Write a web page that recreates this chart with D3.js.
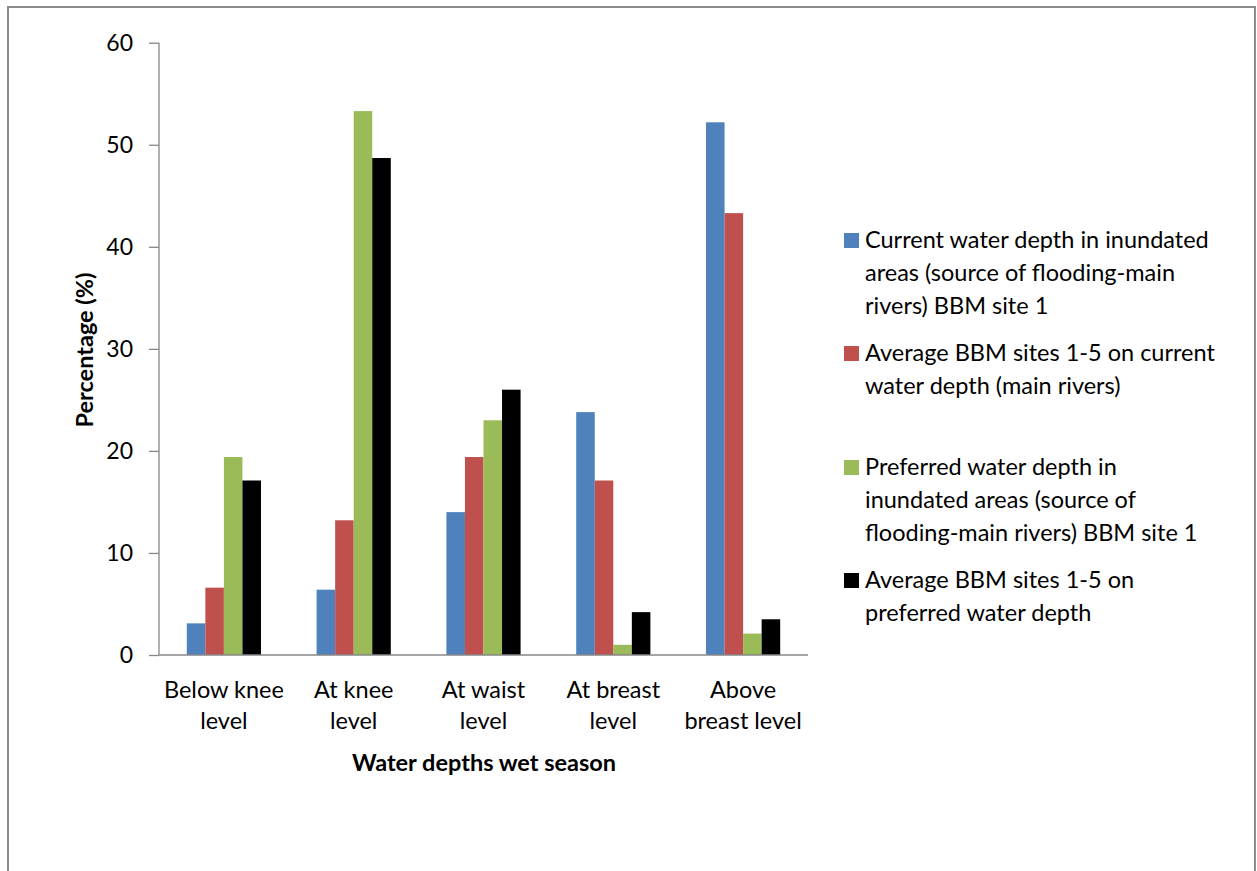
<!DOCTYPE html>
<html>
<head>
<meta charset="utf-8">
<script src="https://cdn.jsdelivr.net/npm/d3@7"></script>
<style>
  html, body { margin: 0; padding: 0; background: #fff; }
  svg { display: block; }
  text { font-family: Lato, "Open Sans", sans-serif; fill: #000; }
</style>
</head>
<body>
<svg id="chart" width="1257" height="871"></svg>
<script>
// Water depth categories (x axis)
const categories = [
  ["Below knee", "level"],
  ["At knee", "level"],
  ["At waist", "level"],
  ["At breast", "level"],
  ["Above", "breast level"]
];
const categoryKeys = ["Below knee level", "At knee level", "At waist level", "At breast level", "Above breast level"];

// Series values (%)
const currentSite1     = [3.1, 6.4, 14.0, 23.8, 52.2];
const currentAvg       = [6.6, 13.2, 19.4, 17.1, 43.3];
const preferredSite1   = [19.4, 53.3, 23.0, 1.0, 2.1];
const preferredAvg     = [17.1, 48.7, 26.0, 4.2, 3.5];

// Legend labels (line-broken)
const seriesLabels = [
  ["Current water depth in inundated", "areas (source of flooding-main", "rivers) BBM site 1"],
  ["Average BBM sites 1-5 on current", "water depth (main rivers)"],
  ["Preferred water depth in", "inundated areas (source of", "flooding-main rivers) BBM site 1"],
  ["Average BBM sites 1-5 on", "preferred water depth"]
];
const seriesColors = ["#4F81BD", "#C0504D", "#9BBB59", "#000000"];
const seriesValues = [currentSite1, currentAvg, preferredSite1, preferredAvg];

const yTicks = [0, 10, 20, 30, 40, 50, 60];

const svg = d3.select("#chart");
const axisColor = "#878787";
const fontSize = "23.5px";

// Outer frame
svg.append("rect")
  .attr("x", 8).attr("y", 7)
  .attr("width", 1247).attr("height", 900)
  .attr("fill", "none")
  .attr("stroke", "#8c8c8c")
  .attr("stroke-width", 2);

const x0 = d3.scaleBand().domain(categoryKeys).range([159, 808]).padding(0);
const bw = x0.bandwidth() / 7;
const x1 = d3.scaleBand().domain(d3.range(4)).range([1.5 * bw, 5.5 * bw]).padding(0);
const y = d3.scaleLinear().domain([0, 60]).range([655, 42.7]);

// Bars
const groups = svg.append("g").selectAll("g")
  .data(categoryKeys)
  .join("g")
  .attr("transform", d => `translate(${x0(d)},0)`);

groups.selectAll("rect")
  .data((d, i) => seriesValues.map((s, k) => ({ k, v: s[i] })))
  .join("rect")
  .attr("x", d => x1(d.k))
  .attr("width", x1.bandwidth())
  .attr("y", d => y(d.v))
  .attr("height", d => y(0) - y(d.v))
  .attr("fill", d => seriesColors[d.k]);

// Y axis
const yAxis = svg.append("g")
  .attr("transform", "translate(159,0)")
  .call(d3.axisLeft(y).tickValues(yTicks).tickSize(10).tickPadding(16).tickFormat(d3.format("d")));
yAxis.select(".domain").attr("stroke", axisColor).attr("stroke-width", 1.3)
  .attr("d", `M0,${y(60)}V${y(0)}`);
yAxis.selectAll(".tick line").attr("stroke", axisColor).attr("stroke-width", 1.3);
yAxis.selectAll(".tick text")
  .style("font-size", "23px")
  .style("font-family", "Lato, sans-serif")
  .attr("fill", "#000");

// X axis line
const xAxis = svg.append("g")
  .attr("transform", `translate(0,${y(0)})`)
  .call(d3.axisBottom(x0).tickSize(0).tickFormat(""));
xAxis.select(".domain").attr("stroke", axisColor).attr("stroke-width", 1.3)
  .attr("d", `M159,0H808`);

// Category labels
const catLabels = svg.append("g").selectAll("text")
  .data(categories)
  .join("text")
  .attr("x", (d, i) => x0(categoryKeys[i]) + x0.bandwidth() / 2)
  .attr("y", 698)
  .attr("text-anchor", "middle")
  .style("font-size", fontSize);
catLabels.selectAll("tspan")
  .data(d => d)
  .join("tspan")
  .attr("x", function () { return d3.select(this.parentNode).attr("x"); })
  .attr("dy", (d, i) => i === 0 ? 0 : 31)
  .text(d => d);

// Axis titles
svg.append("text")
  .attr("x", 484).attr("y", 771)
  .attr("text-anchor", "middle")
  .style("font-size", fontSize).style("font-weight", "bold")
  .text("Water depths wet season");

svg.append("text")
  .attr("transform", "translate(93,350) rotate(-90)")
  .attr("text-anchor", "middle")
  .style("font-size", fontSize).style("font-weight", "bold")
  .text("Percentage (%)");

// Legend
const legendTops = [240, 353, 467, 580];
const legend = svg.append("g");
seriesLabels.forEach((lines, k) => {
  legend.append("rect")
    .attr("x", 844).attr("y", legendTops[k] - 7)
    .attr("width", 15).attr("height", 15)
    .attr("fill", seriesColors[k]);
  const t = legend.append("text")
    .attr("x", 865).attr("y", legendTops[k] + 8)
    .style("font-size", fontSize);
  t.selectAll("tspan").data(lines).join("tspan")
    .attr("x", 865)
    .attr("dy", (d, i) => i === 0 ? 0 : 33)
    .text(d => d);
});
</script>
</body>
</html>
